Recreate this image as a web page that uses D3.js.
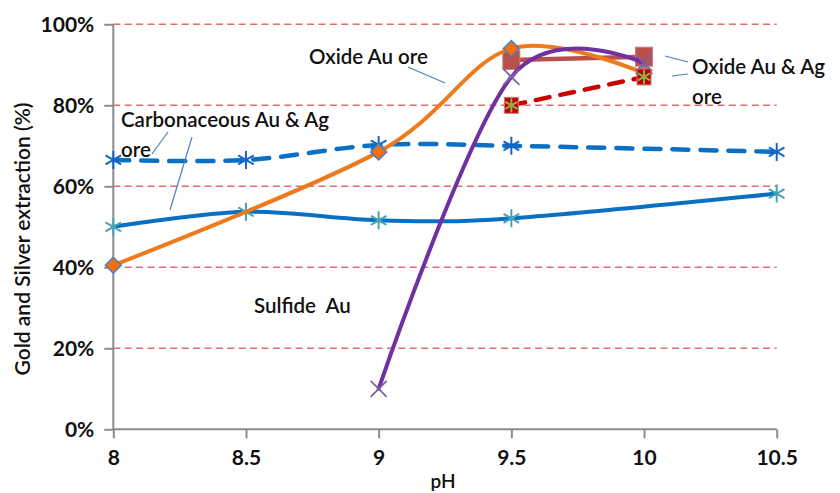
<!DOCTYPE html>
<html>
<head>
<meta charset="utf-8">
<script src="https://cdn.jsdelivr.net/npm/d3@7"></script>
<style>
  body { margin: 0; background: #fff; }
  svg { display: block; font-family: Lato, "Open Sans", sans-serif; }
</style>
</head>
<body>
<svg id="chart" width="840" height="493"></svg>
<script>
// values (pH vs extraction fraction)
const yTicks = [0, 0.2, 0.4, 0.6, 0.8, 1.0];
const xTicks = [8, 8.5, 9, 9.5, 10, 10.5];

const carbonDashedPH = [8, 8.5, 9, 9.5, 10.5];
const carbonDashed = [0.665, 0.665, 0.702, 0.700, 0.685];

const carbonSolidPH = [8, 8.5, 9, 9.5, 10.5];
const carbonSolid = [0.500, 0.537, 0.516, 0.521, 0.582];

const oxideAuPH = [8, 9, 9.5, 10];
const oxideAu = [0.405, 0.685, 0.940, 0.879];

const sulfidePH = [9, 9.5, 10];
const sulfide = [0.100, 0.870, 0.904];

const oxideAgPH = [9.5, 10];
const oxideAg = [0.912, 0.920];

const oxideAgDashedPH = [9.5, 10];
const oxideAgDashed = [0.800, 0.870];

const svg = d3.select('#chart');
const x = d3.scaleLinear().domain([8, 10.5]).range([113.3, 776.7]);
const y = d3.scaleLinear().domain([0, 1]).range([429.3, 24.3]);

// red dashed gridlines
svg.append('g')
  .selectAll('line')
  .data(yTicks.filter((d) => d > 0))
  .join('line')
  .attr('x1', x(8))
  .attr('x2', x(10.5))
  .attr('y1', (d) => y(d))
  .attr('y2', (d) => y(d))
  .attr('stroke', '#e06c6c')
  .attr('stroke-width', 1.5)
  .attr('stroke-dasharray', '7,4.4');

// axes
const yAxis = svg.append('g')
  .attr('transform', `translate(${x(8)},0)`)
  .call(d3.axisLeft(y).tickValues(yTicks).tickFormat(d3.format('.0%')).tickSize(9).tickPadding(10));
const xAxis = svg.append('g')
  .attr('transform', `translate(0,${y(0)})`)
  .call(d3.axisBottom(x).tickValues(xTicks).tickFormat((d) => d).tickSize(9).tickPadding(12));
[yAxis, xAxis].forEach((g) => {
  g.select('.domain').attr('stroke', '#8c8c8c').attr('stroke-width', 2);
  g.selectAll('.tick line').attr('stroke', '#8c8c8c').attr('stroke-width', 2);
  g.selectAll('.tick text')
    .attr('fill', '#111')
    .attr('font-size', 21)
    .attr('font-weight', 'bold')
    .attr('font-family', 'Lato, sans-serif');
});
// keep domain without outer ticks
yAxis.select('.domain').attr('d', `M0,${y(1)}V${y(0)}`);
xAxis.select('.domain').attr('d', `M${x(8)},0H${x(10.5)}`);

svg.append('text')
  .attr('transform', 'translate(30,239) rotate(-90)')
  .attr('text-anchor', 'middle')
  .attr('font-size', 21)
  .attr('font-weight', 600)
  .attr('fill', '#111')
  .text('Gold and Silver extraction (%)');

svg.append('text')
  .attr('x', 443)
  .attr('y', 488)
  .attr('text-anchor', 'middle')
  .attr('font-size', 19)
  .attr('font-weight', 600)
  .attr('fill', '#111')
  .text('pH');

const smooth = d3.line().x((d) => x(d[0])).y((d) => y(d[1])).curve(d3.curveCardinal.tension(0));
const straight = d3.line().x((d) => x(d[0])).y((d) => y(d[1]));

function pairs(xs, ys) { return xs.map((v, i) => [v, ys[i]]); }

function drawLine(pts, gen, color, width, dash) {
  svg.append('path')
    .attr('d', gen(pts))
    .attr('fill', 'none')
    .attr('stroke', color)
    .attr('stroke-width', width)
    .attr('stroke-linecap', 'round')
    .attr('stroke-dasharray', dash || null);
}

function asterisk(g, r, color, w) {
  const p = d3.path();
  p.moveTo(0, -r); p.lineTo(0, r);
  const c = r * Math.cos(Math.PI / 6);
  const s = r * Math.sin(Math.PI / 6);
  p.moveTo(-c, -s); p.lineTo(c, s);
  p.moveTo(-c, s); p.lineTo(c, -s);
  g.append('path').attr('d', p.toString()).attr('stroke', color).attr('stroke-width', w).attr('fill', 'none');
}

function markers(pts, draw) {
  pts.forEach((d) => {
    const g = svg.append('g').attr('transform', `translate(${x(d[0])},${y(d[1])})`);
    draw(g);
  });
}

const dashedBlue = pairs(carbonDashedPH, carbonDashed);
const solidBlue = pairs(carbonSolidPH, carbonSolid);
const orange = pairs(oxideAuPH, oxideAu);
const purple = pairs(sulfidePH, sulfide);
const brown = pairs(oxideAgPH, oxideAg);
const redDash = pairs(oxideAgDashedPH, oxideAgDashed);

drawLine(dashedBlue, smooth, '#0a70c4', 4.5, '16,12');
markers(dashedBlue, (g) => asterisk(g, 9, '#1565c8', 2));

drawLine(solidBlue, smooth, '#0a70c4', 4);
markers(solidBlue, (g) => asterisk(g, 9, '#47a4b8', 2));

drawLine(redDash, straight, '#cc0000', 4.5, '14,11');

drawLine(brown, straight, '#b9504d', 4.5);
markers(brown, (g) => g.append('rect').attr('x', -8.5).attr('y', -9.5).attr('width', 17).attr('height', 19)
  .attr('fill', '#b9504d').attr('stroke', '#c87c79').attr('stroke-width', 1));

drawLine(orange, smooth, '#ee7a1e', 4);
markers(orange, (g) => g.append('path').attr('d', 'M0,-8L8,0L0,8L-8,0Z')
  .attr('fill', '#ee7010').attr('stroke', '#4f7fbd').attr('stroke-width', 1.5));

markers(redDash, (g) => {
  g.append('rect').attr('x', -7).attr('y', -8).attr('width', 14).attr('height', 16)
    .attr('fill', '#c00000').attr('stroke', '#d08070').attr('stroke-width', 1);
  asterisk(g, 7, '#8fb04a', 2);
});

drawLine(purple, smooth, '#7030a0', 4);
markers(purple, (g) => g.append('path').attr('d', 'M-8,-8L8,8M-8,8L8,-8')
  .attr('stroke', '#8064a2').attr('stroke-width', 1.8));

// annotations and their leader lines
const notes = svg.append('g')
  .attr('font-size', 20.5)
  .attr('font-weight', 600)
  .attr('fill', '#111');
notes.append('text').attr('x', 309).attr('y', 64).text('Oxide Au ore');
notes.append('text').attr('x', 121).attr('y', 127).text('Carbonaceous Au & Ag');
notes.append('text').attr('x', 121).attr('y', 157).text('ore');
notes.append('text').attr('x', 692).attr('y', 74).text('Oxide Au & Ag');
notes.append('text').attr('x', 692).attr('y', 104).text('ore');
notes.append('text').attr('x', 254).attr('y', 313).attr('xml:space', 'preserve').text('Sulfide  Au');

const leaders = [
  [408, 67, 445, 83],
  [168, 132, 152, 154],
  [192, 137, 170, 210],
  [665, 56, 688, 62],
  [672, 76, 688, 74]
];
svg.append('g')
  .selectAll('line')
  .data(leaders)
  .join('line')
  .attr('x1', (d) => d[0])
  .attr('y1', (d) => d[1])
  .attr('x2', (d) => d[2])
  .attr('y2', (d) => d[3])
  .attr('stroke', '#4f7fbd')
  .attr('stroke-width', 1.2);
</script>
</body>
</html>
